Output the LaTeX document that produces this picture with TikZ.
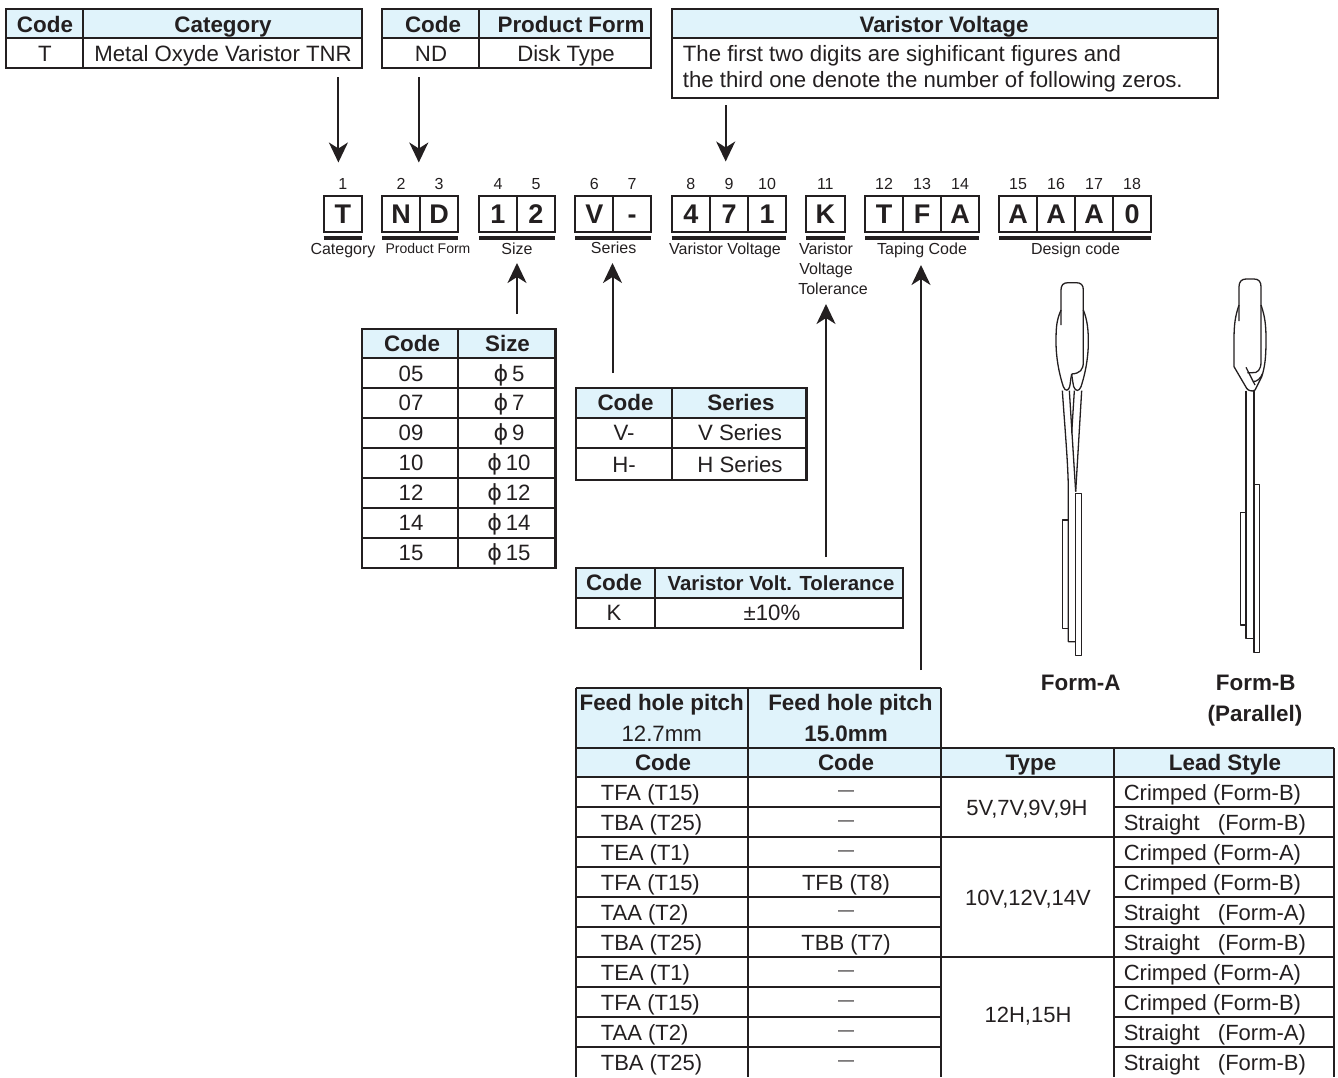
\documentclass[tikz,border=0pt]{standalone}
\usepackage{fontspec}
\setmainfont{Liberation Sans}
\newfontfamily\phifont{DejaVu Sans}
\usetikzlibrary{arrows.meta}
\definecolor{inkblack}{HTML}{231F20}
\definecolor{headblue}{HTML}{E0F3FB}
\newcommand{\nodash}{\raisebox{2.4pt}{\fontsize{8}{9}\selectfont —}}
\tikzset{
  grid/.style={draw=inkblack,line width=1.1pt},
  headfill/.style={fill=headblue,draw=none},
  txt/.style={inner sep=0pt,text=inkblack,font=\fontsize{11.1}{13}\selectfont,text height=8pt,text depth=0pt},
  rowtxt/.style={txt,font=\fontsize{11}{13}\selectfont},
  head/.style={txt,font=\fontsize{11.2}{13}\selectfont\bfseries},
  letter/.style={inner sep=0pt,text=inkblack,font=\fontsize{13.5}{15}\selectfont\bfseries,text height=9.6pt,text depth=0pt},
  small/.style={inner sep=0pt,text=inkblack,font=\fontsize{8}{9}\selectfont,text height=5.8pt,text depth=0pt},
  codebar/.style={draw=inkblack,line width=2pt},
  codearrow/.style={draw=inkblack,line width=1pt,-{Stealth[length=10pt,width=9.5pt,inset=3pt]}},
  lead/.style={draw=inkblack,line width=.65pt,line join=round}
}
\begin{document}
\begin{tikzpicture}[x=.5pt,y=-.5pt]
  \useasboundingbox (0,0) rectangle (1338,1077);

  \fill[headfill] (6.3,9) rectangle (362,38);
  \draw[grid] (6.3,9) rectangle (362,68) (6.3,38) -- (362,38) (83.3,9) -- (83.3,68);
  \node[head] (catcode) at (45,24) {Code};
  \node[head] (cathead) at (223,24) {Category};
  \node[txt] (catT) at (45,53) {T};
  \node[txt] (catname) at (223,53) {Metal Oxyde Varistor TNR};

  \fill[headfill] (381.7,9) rectangle (651,38);
  \draw[grid] (381.7,9) rectangle (651,68) (381.7,38) -- (651,38) (479,9) -- (479,68);
  \node[head] (formcode) at (433,24) {Code};
  \node[head] (formhead) at (571,24) {Product Form};
  \node[txt] (formND) at (431,53) {ND};
  \node[txt] (formname) at (566,53) {Disk Type};

  \fill[headfill] (671.7,9) rectangle (1218,38);
  \draw[grid] (671.7,9) rectangle (1218,98) (671.7,38) -- (1218,38);
  \node[head] (volthead) at (944,24) {Varistor Voltage};
  \node[txt,anchor=west] (voltone) at (682.5,53) {The first two digits are sighificant figures and};
  \node[txt,anchor=west] (volttwo) at (682.5,79.5) {the third one denote the number of following zeros.};

  \foreach \n/\c/\xa/\xb in {1/T/323.7/362,2/N/382/420,3/D/420/458,4/1/479/517,5/2/517/555,
    6/V/575.3/613.2,7/-/613.2/651,8/4/671.7/710,9/7/710/748,10/1/748/786,11/K/806/844.6,
    12/T/865/903,13/F/903/941,14/A/941/979,15/A/999/1037,16/A/1037/1075,17/A/1075/1113,18/0/1113/1151}{
    \draw[draw=inkblack,line width=1pt] (\xa,196) rectangle (\xb,232);
    \node[letter] (digit\n) at ({(\xa+\xb)/2},214) {\c};
    \node[small] (num\n) at ({(\xa+\xb)/2},184) {\n};
  }

  \draw[codebar] (323.7,238) -- (362,238) (382,238) -- (458,238) (479,238) -- (555,238)
    (575.3,238) -- (651,238) (671.7,238) -- (786,238) (806,238) -- (844.6,238)
    (865,238) -- (979,238) (999,238) -- (1151,238);

  \node[small] (labcat) at (343,249) {Category};
  \node[small,font=\fontsize{7}{8}\selectfont] (labform) at (428,248) {Product Form};
  \node[small] (labsize) at (517,249) {Size};
  \node[small] (labseries) at (613.6,248) {Series};
  \node[small] (labvolt) at (725,249) {Varistor Voltage};
  \node[small] (labtol) at (826,249) {Varistor};
  \node[small] (labtolb) at (826,269) {Voltage};
  \node[small] (labtolc) at (833,289) {Tolerance};
  \node[small] (labtape) at (922,249) {Taping Code};
  \node[small] (labdesign) at (1075.5,249) {Design code};

  \fill[headfill] (361.8,329) rectangle (555.4,358);
  \draw[grid] (361.8,329) rectangle (555.4,568) (457.9,329) -- (457.9,568);
  \foreach \y in {358,388,418,448,478,508,538}{
    \draw[grid] (361.8,\y) -- (555.4,\y);
  }
  \node[head] (sizecode) at (412,343.5) {Code};
  \node[head] (sizehead) at (507.5,343.5) {Size};
  \foreach \i/\y/\c/\d in {1/373/05/5,2/402.5/07/7,3/432.5/09/9,4/462.5/10/10,5/492.5/12/12,6/522.5/14/14,7/552.5/15/15}{
    \node[txt] (sizecode\i) at (411,\y) {\c};
    \node[txt] (sizeval\i) at (509,\y) {{\phifont ϕ}\,\d};
  }

  \fill[headfill] (576,388) rectangle (806.4,418);
  \draw[grid] (576,388) rectangle (806.4,480) (576,418) -- (806.4,418) (576,448) -- (806.4,448) (672,388) -- (672,480);
  \node[head] (seriescode) at (625.5,402.5) {Code};
  \node[head] (serieshead) at (741,402.5) {Series};
  \node[txt] (seriesV) at (624,432.5) {V-};
  \node[txt] (seriesVn) at (740,432.5) {V Series};
  \node[txt] (seriesH) at (624,464.5) {H-};
  \node[txt] (seriesHn) at (740,464.5) {H Series};

  \fill[headfill] (576,568) rectangle (903,598);
  \draw[grid] (576,568) rectangle (903,628) (576,598) -- (903,598) (655,568) -- (655,628);
  \node[head] (tolcode) at (614,582.5) {Code};
  \node[head,font=\fontsize{10.2}{12}\selectfont\bfseries] (tolhead) at (781,582.5) {Varistor Volt. Tolerance};
  \node[txt] (tolK) at (614,612.5) {K};
  \node[txt] (tolval) at (772,612.5) {±10\%};

  \coordinate (catfrom) at (338.4,77);
  \coordinate (catto) at (338.4,162.5);
  \coordinate (formfrom) at (418.8,77);
  \coordinate (formto) at (418.8,162.5);
  \coordinate (voltfrom) at (725.7,105);
  \coordinate (voltto) at (725.7,161.5);
  \coordinate (sizefrom) at (517,314);
  \coordinate (sizeto) at (517,263);
  \coordinate (seriesfrom) at (612.5,373);
  \coordinate (seriesto) at (612.5,263);
  \coordinate (tolfrom) at (826,557);
  \coordinate (tolto) at (826,304);
  \coordinate (tapefrom) at (921,670);
  \coordinate (tapeto) at (921,265);
  \draw[codearrow] (catfrom) -- (catto);
  \draw[codearrow] (formfrom) -- (formto);
  \draw[codearrow] (voltfrom) -- (voltto);
  \draw[codearrow] (sizefrom) -- (sizeto);
  \draw[codearrow] (seriesfrom) -- (seriesto);
  \draw[codearrow] (tolfrom) -- (tolto);
  \draw[codearrow] (tapefrom) -- (tapeto);

  \begin{scope}[shift={(1030,270)},x=.16667pt,y=-.16667pt]
    \draw[lead] (93,165) -- (93,60) .. controls (93,45) and (100,38) .. (115,38) -- (138,38)
      .. controls (153,38) and (160,45) .. (160,60) -- (160,275)
      .. controls (160,300) and (150,310) .. (125,312);
    \draw[lead] (93,120) .. controls (80,150) and (78,170) .. (78,215)
      .. controls (78,270) and (90,320) .. (100,350) .. controls (106,365) and (116,365) .. (120,345)
      .. controls (122,330) and (123,320) .. (125,312);
    \draw[lead] (160,120) .. controls (172,150) and (175,180) .. (175,215)
      .. controls (175,270) and (163,320) .. (153,350) .. controls (147,365) and (137,365) .. (131,350)
      .. controls (128,335) and (126,320) .. (125,312);
    \draw[lead] (97,362) .. controls (105,480) and (115,590) .. (115,665) -- (115,1115) -- (137,1115);
    \draw[lead] (118,362) -- (137,665);
    \draw[lead] (155,362) -- (137,665);
    \draw[lead] (133,362) -- (125,490);
    \draw[lead] (115,750) -- (98,750) -- (98,1075) -- (115,1075);
    \draw[lead] (137,670) rectangle (155,1157);

    \draw[lead] (627,153) -- (627,50) .. controls (627,35) and (635,27) .. (648,27) -- (672,27)
      .. controls (686,27) and (693,35) .. (693,50) -- (693,275)
      .. controls (693,300) and (682,310) .. (667,308) -- (652,308);
    \draw[lead] (627,105) .. controls (615,140) and (612,165) .. (612,210) -- (612,290)
      -- (650,355) .. controls (654,362) and (668,366) .. (675,360) -- (695,320)
      .. controls (705,290) and (708,260) .. (708,210) .. controls (708,165) and (705,140) .. (693,105);
    \draw[lead] (648,292) -- (675,345);
    \draw[lead] (698,310) .. controls (692,325) and (682,335) .. (668,335);
    \draw[lead] (648,362) -- (648,1105) -- (672,1105) -- (672,362);
    \draw[lead] (648,727) -- (632,727) -- (632,1065) -- (648,1065);
    \draw[lead] (672,643) rectangle (688,1148);
  \end{scope}

  \node[head] (forma) at (1080.8,682) {Form-A};
  \node[head] (formb) at (1255.8,682) {Form-B};
  \node[head] (formbp) at (1255,713) {(Parallel)};

  \fill[headfill] (576,688) rectangle (941,777);
  \fill[headfill] (941,748) rectangle (1333.7,777);
  \draw[grid] (576,688) -- (941,688) (941,688) -- (941,1077) (1113.6,748) -- (1113.6,1077)
    (1333.7,748) -- (1333.7,1077) (576,688) -- (576,1077) (748,688) -- (748,1077)
    (576,748) -- (1333.7,748) (576,777) -- (1333.7,777)
    (941,837) -- (1333.7,837) (941,957) -- (1333.7,957);
  \foreach \y in {807,837,867,897,927,957,987,1017,1047}{
    \draw[grid] (576,\y) -- (941,\y) (1113.6,\y) -- (1333.7,\y);
  }
  \node[head] (pitcha) at (661.7,702) {Feed hole pitch};
  \node[txt] (pitchav) at (661.7,733) {12.7mm};
  \node[head] (pitchb) at (850.4,702) {Feed hole pitch};
  \node[head] (pitchbv) at (846,733) {15.0mm};
  \node[head] (codea) at (663,762.5) {Code};
  \node[head] (codeb) at (846,762.5) {Code};
  \node[head] (typehead) at (1031,762.5) {Type};
  \node[head] (leadhead) at (1225,762.5) {Lead Style};
  \foreach \i/\y/\a/\b/\c in {1/792/TFA (T15)/\nodash/Crimped (Form-B),
    2/822/TBA (T25)/\nodash/Straight\ \ \ (Form-B),
    3/852/TEA (T1)/\nodash/Crimped (Form-A),
    4/882/TFA (T15)/TFB (T8)/Crimped (Form-B),
    5/912/TAA (T2)/\nodash/Straight\ \ \ (Form-A),
    6/942/TBA (T25)/TBB (T7)/Straight\ \ \ (Form-B),
    7/972/TEA (T1)/\nodash/Crimped (Form-A),
    8/1002/TFA (T15)/\nodash/Crimped (Form-B),
    9/1032/TAA (T2)/\nodash/Straight\ \ \ (Form-A),
    10/1062/TBA (T25)/\nodash/Straight\ \ \ (Form-B)}{
    \node[rowtxt,anchor=west] (rowa\i) at (600.4,\y) {\a};
    \node[rowtxt] (rowb\i) at (846,\y) {\b};
    \node[rowtxt,anchor=west] (rowc\i) at (1123.4,\y) {\c};
  }
  \node[rowtxt] (typea) at (1027,807) {5V,7V,9V,9H};
  \node[rowtxt] (typeb) at (1028,897) {10V,12V,14V};
  \node[rowtxt] (typec) at (1028,1014) {12H,15H};
\end{tikzpicture}
\end{document}
